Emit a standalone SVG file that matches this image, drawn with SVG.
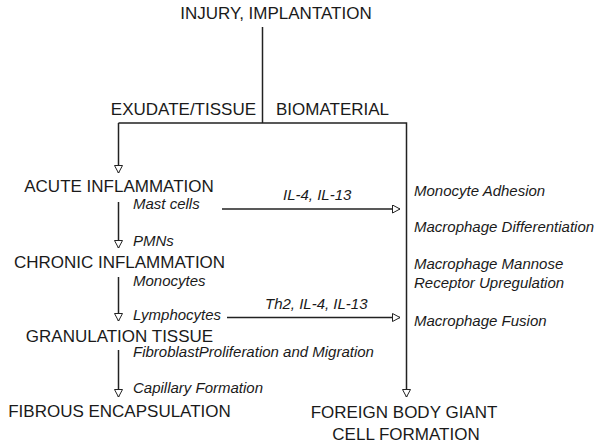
<svg xmlns="http://www.w3.org/2000/svg" width="604" height="446" viewBox="0 0 604 446">
<style>
.cap{font-family:"Liberation Sans",Arial,sans-serif;font-size:17px;fill:#1a1a1a}
.it{font-family:"Liberation Sans",Arial,sans-serif;font-size:15px;font-style:italic;fill:#1a1a1a}
.ln{stroke:#222;stroke-width:1.5;fill:none}
.ar{marker-end:url(#tri)}
</style>
<defs>
<marker id="tri" markerUnits="userSpaceOnUse" markerWidth="10" markerHeight="10" refX="8" refY="4.5" orient="auto">
<path d="M0.5,0.5 L8,4.5 L0.5,8.5 Z" fill="#fff" stroke="#222" stroke-width="1"/>
</marker>
</defs>
<rect width="604" height="446" fill="#fff"/>
<g id="connectors">
<path class="ln" d="M262.5,27 V123"/>
<path class="ln" d="M118.5,123 H406.5 V397" marker-end="url(#tri)"/>
<path class="ln ar" d="M118.5,123 V173"/>
<path class="ln ar" d="M118.5,202 V248"/>
<path class="ln ar" d="M118.5,277 V321"/>
<path class="ln ar" d="M118.5,350 V397"/>
<path class="ln ar" d="M222,209 H400"/>
<path class="ln ar" d="M227,317.5 H400"/>
<text class="it" x="283" y="200">IL-4, IL-13</text>
<text class="it" x="265" y="309">Th2, IL-4, IL-13</text>
<text class="cap" x="256" y="115" text-anchor="end">EXUDATE/TISSUE</text>
<text class="cap" x="276" y="115">BIOMATERIAL</text>
</g>
<g id="injury"><text class="cap" x="276" y="19" text-anchor="middle">INJURY, IMPLANTATION</text></g>
<g id="acute"><text class="cap" x="119" y="192" text-anchor="middle">ACUTE INFLAMMATION</text>
<text class="it" x="133" y="209">Mast cells</text>
<text class="it" x="133" y="246">PMNs</text></g>
<g id="chronic"><text class="cap" x="119.5" y="268" text-anchor="middle">CHRONIC INFLAMMATION</text>
<text class="it" x="133" y="286">Monocytes</text>
<text class="it" x="133" y="320">Lymphocytes</text></g>
<g id="granulation"><text class="cap" x="119.5" y="342" text-anchor="middle">GRANULATION TISSUE</text>
<text class="it" x="133" y="357">FibroblastProliferation and Migration</text>
<text class="it" x="133" y="393">Capillary Formation</text></g>
<g id="fibrous"><text class="cap" x="119.5" y="417" text-anchor="middle">FIBROUS ENCAPSULATION</text></g>
<g id="macrophage">
<text class="it" x="414" y="196">Monocyte Adhesion</text>
<text class="it" x="414" y="232">Macrophage Differentiation</text>
<text class="it" x="414" y="269">Macrophage Mannose</text>
<text class="it" x="414" y="288">Receptor Upregulation</text>
<text class="it" x="414" y="326">Macrophage Fusion</text>
</g>
<g id="fbgc"><text class="cap" x="404" y="418" text-anchor="middle">FOREIGN BODY GIANT</text>
<text class="cap" x="406" y="440" text-anchor="middle">CELL FORMATION</text></g>
</svg>
